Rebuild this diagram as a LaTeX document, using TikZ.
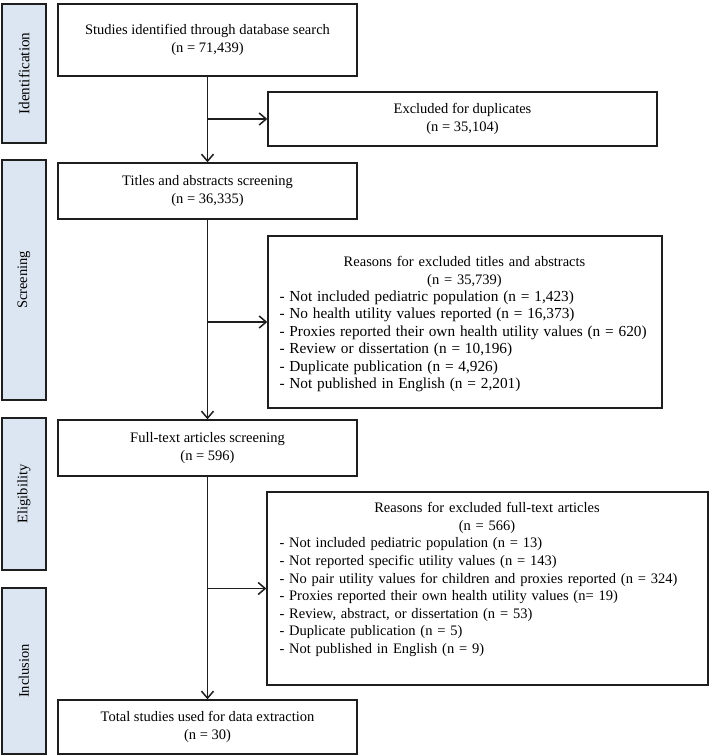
\documentclass[tikz,border=0pt]{standalone}
\usepackage{fontspec}
\setmainfont{Liberation Serif}
\usetikzlibrary{arrows.meta}
\definecolor{lab}{HTML}{DCE6F2}
\definecolor{edge}{HTML}{1E1E1E}
\begin{document}
\begin{tikzpicture}[x=1pt,y=-1pt,
  every node/.style={font=\fontsize{14.5}{17.6}\selectfont},
  box/.style={draw=edge, line width=1.4pt, fill=white, inner sep=0pt, align=center},
  stage/.style={draw=edge, line width=1.4pt, fill=lab, inner sep=0pt},
  txt/.style={inner sep=0pt, align=left},
  conn/.style={draw=edge, line width=1.6pt},
  arr/.style={conn, -{Straight Barb[length=7pt,width=12pt,line width=1.5pt]}}]
\useasboundingbox (0,0) rectangle (710,756);
% stage labels
\node[stage, rotate=90, minimum width=139pt, minimum height=44pt, font=\fontsize{15.2}{18}\selectfont] (sid) at (24,73.5) {Identification};
\node[stage, rotate=90, minimum width=240pt, minimum height=44pt] (ssc) at (24,280) {Screening};
\node[stage, rotate=90, minimum width=152pt, minimum height=44pt] (sel) at (24,494) {Eligibility};
\node[stage, rotate=90, minimum width=166pt, minimum height=44pt] (sin) at (24,671) {Inclusion};
% main boxes
\node[box, minimum width=299pt, minimum height=72pt] (id) at (207.5,40) {Studies identified through database search\\(n = 71,439)};
\node[box, minimum width=389pt, minimum height=54pt] (excl) at (462.5,119) {Excluded for duplicates\\(n = 35,104)};
\node[box, minimum width=299pt, minimum height=56pt] (tit) at (207.5,191) {Titles and abstracts screening\\(n = 36,335)};
\node[box, minimum width=394pt, minimum height=172pt] (r1) at (465,322) {};
\node[txt, anchor=north west, text width=370pt, font=\fontsize{14.5}{17.4}\selectfont] (r1t) at ([xshift=12pt,yshift=-21pt]r1.north west)
 {{\centering Reasons for excluded titles and abstracts\\(n = 35,739)\par}
  \fontsize{15.3}{17.4}\selectfont
  - Not included pediatric population (n = 1,423)\\
  - No health utility values reported (n = 16,373)\\
  - Proxies reported their own health utility values (n = 620)\\
  - Review or dissertation (n = 10,196)\\
  - Duplicate publication (n = 4,926)\\
  - Not published in English (n = 2,201)};
\node[box, minimum width=299pt, minimum height=56pt] (ft) at (207.5,448) {Full-text articles screening\\(n = 596)};
\node[box, minimum width=441pt, minimum height=193pt] (r2) at (487.5,588.5) {};
\node[txt, anchor=north west, text width=415pt] (r2t) at ([xshift=13pt,yshift=-11pt]r2.north west)
 {{\centering Reasons for excluded full-text articles\\(n = 566)\par}
  - Not included pediatric population (n = 13)\\
  - Not reported specific utility values (n = 143)\\
  - No pair utility values for children and proxies reported (n = 324)\\
  - Proxies reported their own health utility values (n= 19)\\
  - Review, abstract, or dissertation (n = 53)\\
  - Duplicate publication (n = 5)\\
  - Not published in English (n = 9)};
\node[box, minimum width=299pt, minimum height=54pt] (tot) at (207.5,727) {Total studies used for data extraction\\(n = 30)};
% connectors
\draw[arr] (id.south) -- (tit.north);
\coordinate (b1) at (id.south |- excl.west);
\draw[arr] (b1) -- (excl.west);
\draw[arr] (tit.south) -- (ft.north);
\coordinate (b2) at (tit.south |- r1.west);
\draw[arr] (b2) -- (r1.west);
\draw[arr] (ft.south) -- (tot.north);
\coordinate (b3) at (ft.south |- r2.west);
\draw[arr] (b3) -- (r2.west);
\end{tikzpicture}
\end{document}
